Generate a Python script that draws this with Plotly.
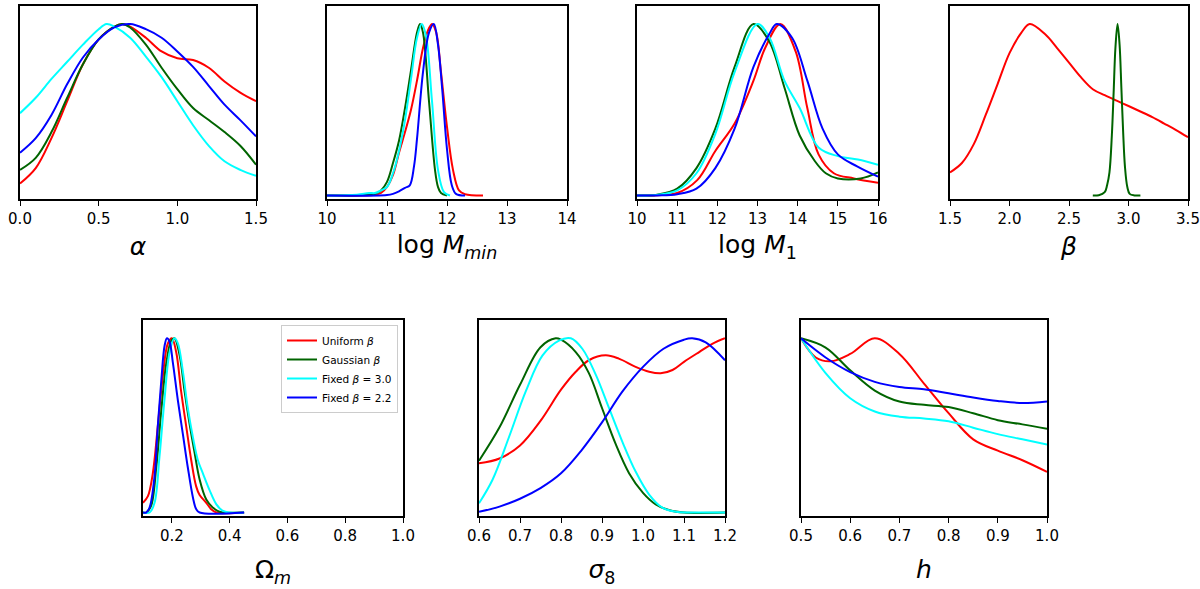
import plotly.graph_objects as go

# ---------------- data (normalised marginal densities, peak = 1) ----------------
SERIES_NAMES = ["Uniform <i>β</i>", "Gaussian <i>β</i>", "Fixed <i>β</i> = 3.0", "Fixed <i>β</i> = 2.2"]
SERIES_COLORS = ["#ff0000", "#006400", "#00ffff", "#0000ff"]

# alpha
ALPHA_UNI_X = [0, 0.1, 0.2, 0.3, 0.4, 0.5, 0.6, 0.65, 0.7, 0.8, 0.9, 1.0, 1.1, 1.2, 1.3, 1.4, 1.5]
ALPHA_UNI_Y = [0.07, 0.16, 0.335, 0.55, 0.765, 0.91, 0.985, 1.0, 0.985, 0.92, 0.84, 0.80, 0.79, 0.745, 0.665, 0.60, 0.55]
ALPHA_GAU_X = [0, 0.1, 0.2, 0.3, 0.4, 0.5, 0.6, 0.65, 0.7, 0.8, 0.9, 1.0, 1.1, 1.2, 1.3, 1.4, 1.5]
ALPHA_GAU_Y = [0.15, 0.22, 0.37, 0.57, 0.765, 0.91, 0.985, 1.0, 0.98, 0.88, 0.745, 0.62, 0.51, 0.44, 0.37, 0.29, 0.18]
ALPHA_F30_X = [0, 0.1, 0.2, 0.3, 0.4, 0.5, 0.55, 0.6, 0.7, 0.8, 0.9, 1.0, 1.1, 1.2, 1.3, 1.4, 1.5]
ALPHA_F30_Y = [0.48, 0.57, 0.68, 0.78, 0.88, 0.97, 1.0, 0.985, 0.92, 0.81, 0.69, 0.55, 0.41, 0.29, 0.20, 0.15, 0.115]
ALPHA_F22_X = [0, 0.1, 0.2, 0.3, 0.4, 0.5, 0.6, 0.7, 0.8, 0.9, 1.0, 1.1, 1.2, 1.3, 1.4, 1.5]
ALPHA_F22_Y = [0.25, 0.335, 0.47, 0.65, 0.805, 0.91, 0.98, 1.0, 0.97, 0.92, 0.84, 0.75, 0.64, 0.53, 0.44, 0.345]

# log M_min
MMIN_UNI_X = [10.0, 10.8, 10.9, 11.0, 11.1, 11.2, 11.3, 11.4, 11.5, 11.6, 11.68, 11.75, 11.82, 11.9, 12.0, 12.1, 12.2, 12.3, 12.6]
MMIN_UNI_Y = [0, 0.005, 0.015, 0.05, 0.12, 0.25, 0.37, 0.5, 0.67, 0.86, 0.96, 1.0, 0.95, 0.72, 0.4, 0.15, 0.03, 0.008, 0]
MMIN_GAU_X = [10.0, 10.6, 10.8, 10.9, 11.0, 11.1, 11.2, 11.3, 11.4, 11.5, 11.55, 11.6, 11.7, 11.8, 11.85, 11.9, 12.0]
MMIN_GAU_Y = [0, 0.003, 0.01, 0.03, 0.08, 0.19, 0.32, 0.51, 0.73, 0.95, 1.0, 0.95, 0.55, 0.15, 0.05, 0.015, 0]
MMIN_F30_X = [10.0, 10.5, 10.7, 10.8, 10.9, 11.0, 11.1, 11.2, 11.3, 11.4, 11.5, 11.58, 11.65, 11.75, 11.85, 11.95, 12.05]
MMIN_F30_Y = [0, 0.005, 0.015, 0.015, 0.03, 0.05, 0.13, 0.26, 0.44, 0.68, 0.92, 1.0, 0.93, 0.55, 0.15, 0.02, 0]
MMIN_F22_X = [10.0, 11.0, 11.1, 11.2, 11.3, 11.38, 11.45, 11.5, 11.6, 11.7, 11.78, 11.85, 11.92, 12.0, 12.08, 12.15, 12.3]
MMIN_F22_Y = [0, 0.003, 0.01, 0.025, 0.045, 0.06, 0.17, 0.33, 0.72, 0.95, 1.0, 0.88, 0.62, 0.27, 0.06, 0.01, 0]

# log M_1
M1_UNI_X = [10.0, 10.5, 11.0, 11.5, 11.95, 12.43, 12.9, 13.19, 13.57, 13.95, 14.24, 14.52, 14.9, 15.4, 16.0]
M1_UNI_Y = [0, 0.002, 0.015, 0.09, 0.26, 0.42, 0.67, 0.86, 1.0, 0.84, 0.51, 0.24, 0.13, 0.1, 0.075]
M1_GAU_X = [10.0, 10.5, 11.0, 11.48, 11.95, 12.43, 12.9, 13.29, 13.67, 14.05, 14.43, 14.7, 15.0, 15.57, 16.0]
M1_GAU_Y = [0, 0.005, 0.04, 0.16, 0.39, 0.75, 1.0, 0.9, 0.63, 0.35, 0.2, 0.13, 0.1, 0.1, 0.135]
M1_F30_X = [10.0, 10.5, 11.0, 11.48, 11.95, 12.43, 13.0, 13.3, 13.67, 14.05, 14.52, 15.0, 15.5, 16.0]
M1_F30_Y = [0, 0.004, 0.03, 0.13, 0.36, 0.72, 1.0, 0.92, 0.67, 0.51, 0.28, 0.23, 0.21, 0.18]
M1_F22_X = [10.0, 10.5, 11.0, 11.48, 11.95, 12.43, 12.9, 13.29, 13.48, 13.86, 14.24, 14.62, 15.0, 15.48, 16.0]
M1_F22_Y = [0, 0.001, 0.008, 0.04, 0.16, 0.39, 0.75, 0.94, 1.0, 0.92, 0.67, 0.39, 0.24, 0.17, 0.11]

# beta
BETA_UNI_X = [1.5, 1.6, 1.7, 1.8, 1.9, 2.0, 2.1, 2.17, 2.3, 2.4, 2.5, 2.6, 2.7, 2.8, 2.9, 3.0, 3.1, 3.2, 3.3, 3.4, 3.5]
BETA_UNI_Y = [0.135, 0.19, 0.30, 0.47, 0.65, 0.83, 0.95, 1.0, 0.94, 0.86, 0.775, 0.69, 0.62, 0.585, 0.553, 0.522, 0.49, 0.457, 0.42, 0.382, 0.34]
BETA_GAU_X = [2.7, 2.75, 2.8, 2.82, 2.84, 2.86, 2.875, 2.89, 2.908, 2.925, 2.94, 2.955, 2.97, 2.99, 3.01, 3.05, 3.1]
BETA_GAU_Y = [0, 0.002, 0.02, 0.06, 0.135, 0.35, 0.6, 0.86, 1.0, 0.88, 0.63, 0.37, 0.17, 0.05, 0.01, 0.001, 0]

# Omega_m
OM_UNI_X = [0.1, 0.117, 0.134, 0.151, 0.169, 0.186, 0.2, 0.215, 0.232, 0.25, 0.267, 0.284, 0.296, 0.319, 0.336, 0.354, 0.45]
OM_UNI_Y = [0.056, 0.094, 0.225, 0.49, 0.79, 0.97, 1.0, 0.92, 0.695, 0.49, 0.30, 0.15, 0.10, 0.056, 0.019, 0, 0]
OM_GAU_X = [0.1, 0.111, 0.128, 0.146, 0.163, 0.18, 0.198, 0.209, 0.227, 0.244, 0.261, 0.279, 0.296, 0.319, 0.342, 0.365, 0.45]
OM_GAU_Y = [0, 0, 0.038, 0.26, 0.58, 0.85, 0.987, 1.0, 0.90, 0.695, 0.51, 0.34, 0.19, 0.075, 0.028, 0.004, 0]
OM_F30_X = [0.1, 0.123, 0.14, 0.157, 0.175, 0.192, 0.209, 0.221, 0.238, 0.255, 0.273, 0.29, 0.307, 0.33, 0.354, 0.377, 0.4, 0.45]
OM_F30_Y = [0, 0, 0.056, 0.32, 0.66, 0.92, 1.0, 0.97, 0.81, 0.60, 0.43, 0.30, 0.226, 0.13, 0.047, 0.009, 0, 0]
OM_F22_X = [0.1, 0.111, 0.123, 0.14, 0.151, 0.163, 0.175, 0.183, 0.192, 0.203, 0.221, 0.238, 0.255, 0.273, 0.284, 0.296, 0.45]
OM_F22_Y = [0, 0, 0.03, 0.21, 0.49, 0.75, 0.96, 1.0, 0.98, 0.865, 0.64, 0.45, 0.26, 0.085, 0.02, 0, 0]

# sigma_8
S8_UNI_X = [0.6, 0.65, 0.7, 0.75, 0.8, 0.836, 0.868, 0.909, 0.941, 0.982, 1.015, 1.043, 1.072, 1.1, 1.137, 1.169, 1.2]
S8_UNI_Y = [0.282, 0.31, 0.385, 0.526, 0.705, 0.808, 0.874, 0.902, 0.883, 0.836, 0.808, 0.799, 0.818, 0.865, 0.921, 0.968, 1.0]
S8_GAU_X = [0.6, 0.65, 0.7, 0.75, 0.787, 0.8, 0.836, 0.868, 0.9, 0.933, 0.966, 1.0, 1.031, 1.065, 1.1, 1.2]
S8_GAU_Y = [0.297, 0.489, 0.733, 0.949, 1.0, 0.992, 0.921, 0.80, 0.60, 0.395, 0.226, 0.113, 0.047, 0.013, 0, 0]
S8_F30_X = [0.6, 0.633, 0.673, 0.714, 0.755, 0.795, 0.824, 0.852, 0.885, 0.917, 0.95, 0.982, 1.015, 1.047, 1.08, 1.12, 1.2]
S8_F30_Y = [0.053, 0.188, 0.432, 0.695, 0.902, 0.987, 1.0, 0.94, 0.79, 0.60, 0.404, 0.235, 0.103, 0.028, 0.004, 0, 0]
S8_F22_X = [0.6, 0.65, 0.7, 0.75, 0.8, 0.85, 0.9, 0.95, 1.0, 1.05, 1.1, 1.12, 1.153, 1.2]
S8_F22_Y = [0.004, 0.034, 0.079, 0.14, 0.225, 0.357, 0.517, 0.695, 0.836, 0.94, 0.992, 1.0, 0.977, 0.874]

# h
H_UNI_X = [0.5, 0.53, 0.56, 0.6, 0.65, 0.7, 0.75, 0.8, 0.85, 0.9, 0.95, 1.0]
H_UNI_Y = [1.0, 0.89, 0.868, 0.91, 1.0, 0.91, 0.74, 0.57, 0.42, 0.355, 0.30, 0.233]
H_GAU_X = [0.5, 0.55, 0.6, 0.65, 0.7, 0.75, 0.8, 0.85, 0.9, 0.95, 1.0]
H_GAU_Y = [1.0, 0.947, 0.816, 0.70, 0.637, 0.618, 0.605, 0.57, 0.53, 0.506, 0.48]
H_F30_X = [0.5, 0.55, 0.6, 0.65, 0.7, 0.75, 0.8, 0.85, 0.9, 0.95, 1.0]
H_F30_Y = [1.0, 0.80, 0.656, 0.58, 0.55, 0.54, 0.524, 0.487, 0.45, 0.42, 0.39]
H_F22_X = [0.5, 0.55, 0.6, 0.65, 0.7, 0.75, 0.8, 0.85, 0.9, 0.95, 1.0]
H_F22_Y = [1.0, 0.89, 0.806, 0.75, 0.72, 0.707, 0.684, 0.66, 0.64, 0.628, 0.637]

# tick values
ALPHA_TICKS = [0.0, 0.5, 1.0, 1.5]
MMIN_TICKS = [10, 11, 12, 13, 14]
M1_TICKS = [10, 11, 12, 13, 14, 15, 16]
BETA_TICKS = [1.5, 2.0, 2.5, 3.0, 3.5]
OM_TICKS = [0.2, 0.4, 0.6, 0.8, 1.0]
S8_TICKS = [0.6, 0.7, 0.8, 0.9, 1.0, 1.1, 1.2]
H_TICKS = [0.5, 0.6, 0.7, 0.8, 0.9, 1.0]

# ---------------- layout geometry (page pixels) ----------------
FW, FH = 1200, 589
TOP_Y = (6, 199)
BOT_Y = (320, 516)


def fx(px):
    return px / FW


def fy(py):
    return 1 - py / FH


panels = [
    dict(title="<i>α</i>", xr=[0, 1.5], ticks=ALPHA_TICKS, fmt=".1f", px=(20, 256), py=TOP_Y, so=11,
         series=[(ALPHA_UNI_X, ALPHA_UNI_Y, 0), (ALPHA_GAU_X, ALPHA_GAU_Y, 1),
                 (ALPHA_F30_X, ALPHA_F30_Y, 2), (ALPHA_F22_X, ALPHA_F22_Y, 3)]),
    dict(title="log <i>M</i><sub><i>min</i></sub>", xr=[10, 14], ticks=MMIN_TICKS, fmt="d", px=(327, 567), py=TOP_Y, so=9,
         series=[(MMIN_UNI_X, MMIN_UNI_Y, 0), (MMIN_GAU_X, MMIN_GAU_Y, 1),
                 (MMIN_F30_X, MMIN_F30_Y, 2), (MMIN_F22_X, MMIN_F22_Y, 3)]),
    dict(title="log <i>M</i><sub>1</sub>", xr=[10, 16], ticks=M1_TICKS, fmt="d", px=(637, 878), py=TOP_Y, so=9,
         series=[(M1_UNI_X, M1_UNI_Y, 0), (M1_GAU_X, M1_GAU_Y, 1),
                 (M1_F30_X, M1_F30_Y, 2), (M1_F22_X, M1_F22_Y, 3)]),
    dict(title="<i>β</i>", xr=[1.5, 3.5], ticks=BETA_TICKS, fmt=".1f", px=(950, 1188), py=TOP_Y, so=11,
         series=[(BETA_UNI_X, BETA_UNI_Y, 0), (BETA_GAU_X, BETA_GAU_Y, 1)]),
    dict(title="Ω<sub><i>m</i></sub>", xr=[0.1, 1.0], ticks=OM_TICKS, fmt=".1f", px=(143, 403), py=BOT_Y, so=17,
         series=[(OM_UNI_X, OM_UNI_Y, 0), (OM_GAU_X, OM_GAU_Y, 1),
                 (OM_F30_X, OM_F30_Y, 2), (OM_F22_X, OM_F22_Y, 3)], legend=True),
    dict(title="<i>σ</i><sub>8</sub>", xr=[0.6, 1.2], ticks=S8_TICKS, fmt=".1f", px=(479, 725), py=BOT_Y, so=17,
         series=[(S8_UNI_X, S8_UNI_Y, 0), (S8_GAU_X, S8_GAU_Y, 1),
                 (S8_F30_X, S8_F30_Y, 2), (S8_F22_X, S8_F22_Y, 3)]),
    dict(title="<i>h</i>", xr=[0.5, 1.0], ticks=H_TICKS, fmt=".1f", px=(801, 1047), py=BOT_Y, so=17,
         series=[(H_UNI_X, H_UNI_Y, 0), (H_GAU_X, H_GAU_Y, 1),
                 (H_F30_X, H_F30_Y, 2), (H_F22_X, H_F22_Y, 3)]),
]

FONT = "DejaVu Sans"
fig = go.Figure()
layout = dict(
    width=FW, height=FH, margin=dict(l=0, r=0, t=0, b=0),
    paper_bgcolor="white", plot_bgcolor="white",
    font=dict(family=FONT, color="black"),
    showlegend=True,
    legend=dict(x=fx(398), y=fy(325), xanchor="right", yanchor="top",
                bgcolor="white", bordercolor="#cccccc", borderwidth=1,
                font=dict(family=FONT, size=10.5, color="black"),
                itemwidth=30, tracegroupgap=0),
)

for i, p in enumerate(panels, start=1):
    xa = "x" if i == 1 else f"x{i}"
    ya = "y" if i == 1 else f"y{i}"
    for xs, ys, k in p["series"]:
        fig.add_trace(go.Scatter(
            x=xs, y=ys, mode="lines", xaxis=xa, yaxis=ya,
            line=dict(color=SERIES_COLORS[k], width=2, shape="spline", smoothing=1.0),
            name=SERIES_NAMES[k], showlegend=bool(p.get("legend")), hoverinfo="skip"))
    xdom = [fx(p["px"][0]), fx(p["px"][1])]
    ydom = [fy(p["py"][1]), fy(p["py"][0])]
    layout["xaxis" if i == 1 else f"xaxis{i}"] = dict(
        domain=xdom, anchor=ya, range=p["xr"], tickvals=p["ticks"], tickformat=p["fmt"],
        showline=True, mirror=True, linecolor="black", linewidth=1.5,
        ticks="outside", ticklen=5, tickwidth=1.3, tickcolor="black",
        showgrid=False, zeroline=False,
        tickfont=dict(family=FONT, size=15, color="black"),
        title=dict(text=p["title"], font=dict(family=FONT, size=25, color="black"), standoff=p["so"]),
        automargin=False)
    layout["yaxis" if i == 1 else f"yaxis{i}"] = dict(
        domain=ydom, anchor=xa, range=[-0.02, 1.105],
        showline=True, mirror=True, linecolor="black", linewidth=1.5,
        ticks="", showticklabels=False, showgrid=False, zeroline=False, automargin=False)

fig.update_layout(**layout)
# remove the browser's default 8px page margin so the figure sits at the window origin
fig.write_html("out.html", config={"displayModeBar": False},
               post_script="document.body.style.margin='0';document.body.style.overflow='hidden';")
